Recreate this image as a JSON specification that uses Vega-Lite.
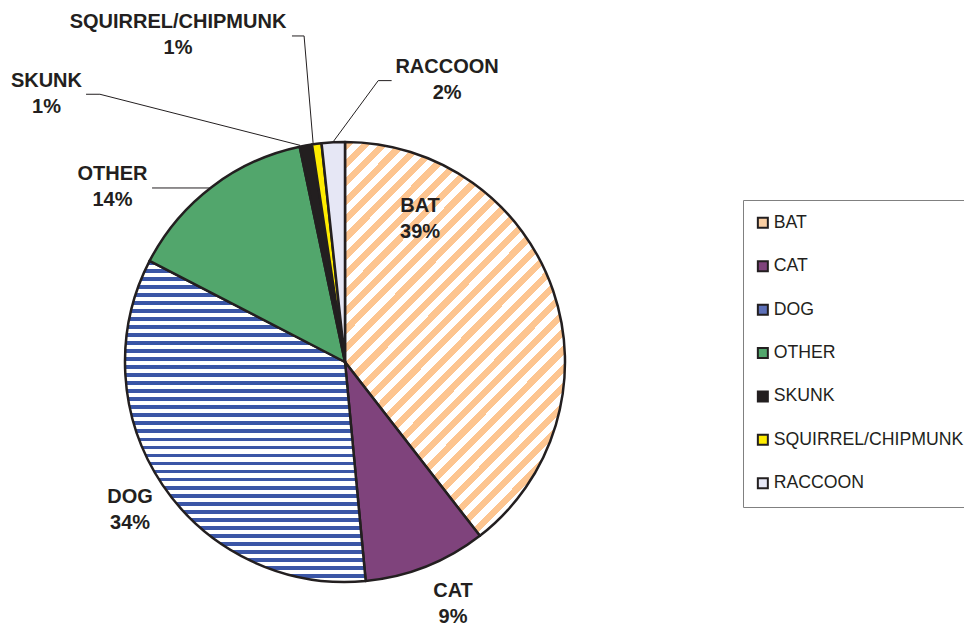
{
  "$schema": "https://vega.github.io/schema/vega-lite/v6.json",
  "width": 440,
  "height": 440,
  "autosize": {"type": "none"},
  "padding": {"left": 125, "top": 142, "right": 399, "bottom": 47},
  "background": "white",
  "config": {"view": {"stroke": null}, "font": "Liberation Sans"},
  "datasets": {
    "slices": [
      {"animal": "BAT", "idx": 1, "share": 39.5},
      {"animal": "CAT", "idx": 2, "share": 9.0},
      {"animal": "DOG", "idx": 3, "share": 34.1},
      {"animal": "OTHER", "idx": 4, "share": 14.1},
      {"animal": "SKUNK", "idx": 5, "share": 0.9},
      {"animal": "SQUIRREL/CHIPMUNK", "idx": 6, "share": 0.7},
      {"animal": "RACCOON", "idx": 7, "share": 1.7}
    ],
    "labels": [
      {"label": "BAT\n39%", "u": 0.341, "v": 0.709},
      {"label": "CAT\n9%", "u": 0.491, "v": -1.04},
      {"label": "DOG\n34%", "u": -0.977, "v": -0.612},
      {"label": "OTHER\n14%", "u": -1.057, "v": 0.856},
      {"label": "SKUNK\n1%", "u": -1.357, "v": 1.277},
      {"label": "SQUIRREL/CHIPMUNK\n1%", "u": -0.759, "v": 1.546},
      {"label": "RACCOON\n2%", "u": 0.464, "v": 1.339}
    ],
    "leaders": [
      {"u1": -0.241, "v1": 1.482, "u2": -0.186, "v2": 1.482},
      {"u1": -0.186, "v1": 1.482, "u2": -0.145, "v2": 0.995},
      {"u1": -1.177, "v1": 1.217, "u2": -1.114, "v2": 1.217},
      {"u1": -1.114, "v1": 1.217, "u2": -0.2045, "v2": 0.985},
      {"u1": 0.212, "v1": 1.279, "u2": 0.151, "v2": 1.279},
      {"u1": 0.151, "v1": 1.279, "u2": -0.053, "v2": 1.002},
      {"u1": -0.877, "v1": 0.791, "u2": -0.614, "v2": 0.791}
    ]
  },
  "layer": [
    {
      "data": {"name": "slices"},
      "mark": {"type": "arc", "stroke": "#231F20", "strokeWidth": 2.5, "strokeJoin": "round"},
      "encoding": {
        "theta": {"field": "share", "type": "quantitative", "stack": true},
        "order": {"field": "idx", "type": "quantitative"},
        "color": {
          "condition": [
            {"test": "datum.animal === 'BAT'", "value": {"gradient": "linear", "x1": 0, "y1": 0, "x2": 0.797, "y2": 1.42, "stops": [
                {"offset": 0, "color": "#FDC590"}, {"offset": 0.0125, "color": "#FDC590"}, {"offset": 0.0125, "color": "#fff"}, {"offset": 0.025, "color": "#fff"},
                {"offset": 0.025, "color": "#FDC590"}, {"offset": 0.0375, "color": "#FDC590"}, {"offset": 0.0375, "color": "#fff"}, {"offset": 0.05, "color": "#fff"},
                {"offset": 0.05, "color": "#FDC590"}, {"offset": 0.0625, "color": "#FDC590"}, {"offset": 0.0625, "color": "#fff"}, {"offset": 0.075, "color": "#fff"},
                {"offset": 0.075, "color": "#FDC590"}, {"offset": 0.0875, "color": "#FDC590"}, {"offset": 0.0875, "color": "#fff"}, {"offset": 0.1, "color": "#fff"},
                {"offset": 0.1, "color": "#FDC590"}, {"offset": 0.1125, "color": "#FDC590"}, {"offset": 0.1125, "color": "#fff"}, {"offset": 0.125, "color": "#fff"},
                {"offset": 0.125, "color": "#FDC590"}, {"offset": 0.1375, "color": "#FDC590"}, {"offset": 0.1375, "color": "#fff"}, {"offset": 0.15, "color": "#fff"},
                {"offset": 0.15, "color": "#FDC590"}, {"offset": 0.1625, "color": "#FDC590"}, {"offset": 0.1625, "color": "#fff"}, {"offset": 0.175, "color": "#fff"},
                {"offset": 0.175, "color": "#FDC590"}, {"offset": 0.1875, "color": "#FDC590"}, {"offset": 0.1875, "color": "#fff"}, {"offset": 0.2, "color": "#fff"},
                {"offset": 0.2, "color": "#FDC590"}, {"offset": 0.2125, "color": "#FDC590"}, {"offset": 0.2125, "color": "#fff"}, {"offset": 0.225, "color": "#fff"},
                {"offset": 0.225, "color": "#FDC590"}, {"offset": 0.2375, "color": "#FDC590"}, {"offset": 0.2375, "color": "#fff"}, {"offset": 0.25, "color": "#fff"},
                {"offset": 0.25, "color": "#FDC590"}, {"offset": 0.2625, "color": "#FDC590"}, {"offset": 0.2625, "color": "#fff"}, {"offset": 0.275, "color": "#fff"},
                {"offset": 0.275, "color": "#FDC590"}, {"offset": 0.2875, "color": "#FDC590"}, {"offset": 0.2875, "color": "#fff"}, {"offset": 0.3, "color": "#fff"},
                {"offset": 0.3, "color": "#FDC590"}, {"offset": 0.3125, "color": "#FDC590"}, {"offset": 0.3125, "color": "#fff"}, {"offset": 0.325, "color": "#fff"},
                {"offset": 0.325, "color": "#FDC590"}, {"offset": 0.3375, "color": "#FDC590"}, {"offset": 0.3375, "color": "#fff"}, {"offset": 0.35, "color": "#fff"},
                {"offset": 0.35, "color": "#FDC590"}, {"offset": 0.3625, "color": "#FDC590"}, {"offset": 0.3625, "color": "#fff"}, {"offset": 0.375, "color": "#fff"},
                {"offset": 0.375, "color": "#FDC590"}, {"offset": 0.3875, "color": "#FDC590"}, {"offset": 0.3875, "color": "#fff"}, {"offset": 0.4, "color": "#fff"},
                {"offset": 0.4, "color": "#FDC590"}, {"offset": 0.4125, "color": "#FDC590"}, {"offset": 0.4125, "color": "#fff"}, {"offset": 0.425, "color": "#fff"},
                {"offset": 0.425, "color": "#FDC590"}, {"offset": 0.4375, "color": "#FDC590"}, {"offset": 0.4375, "color": "#fff"}, {"offset": 0.45, "color": "#fff"},
                {"offset": 0.45, "color": "#FDC590"}, {"offset": 0.4625, "color": "#FDC590"}, {"offset": 0.4625, "color": "#fff"}, {"offset": 0.475, "color": "#fff"},
                {"offset": 0.475, "color": "#FDC590"}, {"offset": 0.4875, "color": "#FDC590"}, {"offset": 0.4875, "color": "#fff"}, {"offset": 0.5, "color": "#fff"},
                {"offset": 0.5, "color": "#FDC590"}, {"offset": 0.5125, "color": "#FDC590"}, {"offset": 0.5125, "color": "#fff"}, {"offset": 0.525, "color": "#fff"},
                {"offset": 0.525, "color": "#FDC590"}, {"offset": 0.5375, "color": "#FDC590"}, {"offset": 0.5375, "color": "#fff"}, {"offset": 0.55, "color": "#fff"},
                {"offset": 0.55, "color": "#FDC590"}, {"offset": 0.5625, "color": "#FDC590"}, {"offset": 0.5625, "color": "#fff"}, {"offset": 0.575, "color": "#fff"},
                {"offset": 0.575, "color": "#FDC590"}, {"offset": 0.5875, "color": "#FDC590"}, {"offset": 0.5875, "color": "#fff"}, {"offset": 0.6, "color": "#fff"},
                {"offset": 0.6, "color": "#FDC590"}, {"offset": 0.6125, "color": "#FDC590"}, {"offset": 0.6125, "color": "#fff"}, {"offset": 0.625, "color": "#fff"},
                {"offset": 0.625, "color": "#FDC590"}, {"offset": 0.6375, "color": "#FDC590"}, {"offset": 0.6375, "color": "#fff"}, {"offset": 0.65, "color": "#fff"},
                {"offset": 0.65, "color": "#FDC590"}, {"offset": 0.6625, "color": "#FDC590"}, {"offset": 0.6625, "color": "#fff"}, {"offset": 0.675, "color": "#fff"},
                {"offset": 0.675, "color": "#FDC590"}, {"offset": 0.6875, "color": "#FDC590"}, {"offset": 0.6875, "color": "#fff"}, {"offset": 0.7, "color": "#fff"},
                {"offset": 0.7, "color": "#FDC590"}, {"offset": 0.7125, "color": "#FDC590"}, {"offset": 0.7125, "color": "#fff"}, {"offset": 0.725, "color": "#fff"},
                {"offset": 0.725, "color": "#FDC590"}, {"offset": 0.7375, "color": "#FDC590"}, {"offset": 0.7375, "color": "#fff"}, {"offset": 0.75, "color": "#fff"},
                {"offset": 0.75, "color": "#FDC590"}, {"offset": 0.7625, "color": "#FDC590"}, {"offset": 0.7625, "color": "#fff"}, {"offset": 0.775, "color": "#fff"},
                {"offset": 0.775, "color": "#FDC590"}, {"offset": 0.7875, "color": "#FDC590"}, {"offset": 0.7875, "color": "#fff"}, {"offset": 0.8, "color": "#fff"},
                {"offset": 0.8, "color": "#FDC590"}, {"offset": 0.8125, "color": "#FDC590"}, {"offset": 0.8125, "color": "#fff"}, {"offset": 0.825, "color": "#fff"},
                {"offset": 0.825, "color": "#FDC590"}, {"offset": 0.8375, "color": "#FDC590"}, {"offset": 0.8375, "color": "#fff"}, {"offset": 0.85, "color": "#fff"},
                {"offset": 0.85, "color": "#FDC590"}, {"offset": 0.8625, "color": "#FDC590"}, {"offset": 0.8625, "color": "#fff"}, {"offset": 0.875, "color": "#fff"},
                {"offset": 0.875, "color": "#FDC590"}, {"offset": 0.8875, "color": "#FDC590"}, {"offset": 0.8875, "color": "#fff"}, {"offset": 1, "color": "#fff"}
              ]}},
            {"test": "datum.animal === 'DOG'", "value": {"gradient": "linear", "x1": 0, "y1": 0, "x2": 0, "y2": 1, "stops": [
                {"offset": 0, "color": "#3B56A6"}, {"offset": 0.012, "color": "#3B56A6"}, {"offset": 0.012, "color": "#fff"}, {"offset": 0.025, "color": "#fff"},
                {"offset": 0.025, "color": "#3B56A6"}, {"offset": 0.037, "color": "#3B56A6"}, {"offset": 0.037, "color": "#fff"}, {"offset": 0.05, "color": "#fff"},
                {"offset": 0.05, "color": "#3B56A6"}, {"offset": 0.062, "color": "#3B56A6"}, {"offset": 0.062, "color": "#fff"}, {"offset": 0.075, "color": "#fff"},
                {"offset": 0.075, "color": "#3B56A6"}, {"offset": 0.087, "color": "#3B56A6"}, {"offset": 0.087, "color": "#fff"}, {"offset": 0.1, "color": "#fff"},
                {"offset": 0.1, "color": "#3B56A6"}, {"offset": 0.112, "color": "#3B56A6"}, {"offset": 0.112, "color": "#fff"}, {"offset": 0.125, "color": "#fff"},
                {"offset": 0.125, "color": "#3B56A6"}, {"offset": 0.137, "color": "#3B56A6"}, {"offset": 0.137, "color": "#fff"}, {"offset": 0.15, "color": "#fff"},
                {"offset": 0.15, "color": "#3B56A6"}, {"offset": 0.162, "color": "#3B56A6"}, {"offset": 0.162, "color": "#fff"}, {"offset": 0.175, "color": "#fff"},
                {"offset": 0.175, "color": "#3B56A6"}, {"offset": 0.187, "color": "#3B56A6"}, {"offset": 0.187, "color": "#fff"}, {"offset": 0.2, "color": "#fff"},
                {"offset": 0.2, "color": "#3B56A6"}, {"offset": 0.212, "color": "#3B56A6"}, {"offset": 0.212, "color": "#fff"}, {"offset": 0.225, "color": "#fff"},
                {"offset": 0.225, "color": "#3B56A6"}, {"offset": 0.237, "color": "#3B56A6"}, {"offset": 0.237, "color": "#fff"}, {"offset": 0.25, "color": "#fff"},
                {"offset": 0.25, "color": "#3B56A6"}, {"offset": 0.262, "color": "#3B56A6"}, {"offset": 0.262, "color": "#fff"}, {"offset": 0.275, "color": "#fff"},
                {"offset": 0.275, "color": "#3B56A6"}, {"offset": 0.287, "color": "#3B56A6"}, {"offset": 0.287, "color": "#fff"}, {"offset": 0.3, "color": "#fff"},
                {"offset": 0.3, "color": "#3B56A6"}, {"offset": 0.312, "color": "#3B56A6"}, {"offset": 0.312, "color": "#fff"}, {"offset": 0.325, "color": "#fff"},
                {"offset": 0.325, "color": "#3B56A6"}, {"offset": 0.337, "color": "#3B56A6"}, {"offset": 0.337, "color": "#fff"}, {"offset": 0.35, "color": "#fff"},
                {"offset": 0.35, "color": "#3B56A6"}, {"offset": 0.362, "color": "#3B56A6"}, {"offset": 0.362, "color": "#fff"}, {"offset": 0.375, "color": "#fff"},
                {"offset": 0.375, "color": "#3B56A6"}, {"offset": 0.387, "color": "#3B56A6"}, {"offset": 0.387, "color": "#fff"}, {"offset": 0.4, "color": "#fff"},
                {"offset": 0.4, "color": "#3B56A6"}, {"offset": 0.412, "color": "#3B56A6"}, {"offset": 0.412, "color": "#fff"}, {"offset": 0.425, "color": "#fff"},
                {"offset": 0.425, "color": "#3B56A6"}, {"offset": 0.437, "color": "#3B56A6"}, {"offset": 0.437, "color": "#fff"}, {"offset": 0.45, "color": "#fff"},
                {"offset": 0.45, "color": "#3B56A6"}, {"offset": 0.462, "color": "#3B56A6"}, {"offset": 0.462, "color": "#fff"}, {"offset": 0.475, "color": "#fff"},
                {"offset": 0.475, "color": "#3B56A6"}, {"offset": 0.487, "color": "#3B56A6"}, {"offset": 0.487, "color": "#fff"}, {"offset": 0.5, "color": "#fff"},
                {"offset": 0.5, "color": "#3B56A6"}, {"offset": 0.512, "color": "#3B56A6"}, {"offset": 0.512, "color": "#fff"}, {"offset": 0.525, "color": "#fff"},
                {"offset": 0.525, "color": "#3B56A6"}, {"offset": 0.537, "color": "#3B56A6"}, {"offset": 0.537, "color": "#fff"}, {"offset": 0.55, "color": "#fff"},
                {"offset": 0.55, "color": "#3B56A6"}, {"offset": 0.562, "color": "#3B56A6"}, {"offset": 0.562, "color": "#fff"}, {"offset": 0.575, "color": "#fff"},
                {"offset": 0.575, "color": "#3B56A6"}, {"offset": 0.587, "color": "#3B56A6"}, {"offset": 0.587, "color": "#fff"}, {"offset": 0.6, "color": "#fff"},
                {"offset": 0.6, "color": "#3B56A6"}, {"offset": 0.612, "color": "#3B56A6"}, {"offset": 0.612, "color": "#fff"}, {"offset": 0.625, "color": "#fff"},
                {"offset": 0.625, "color": "#3B56A6"}, {"offset": 0.637, "color": "#3B56A6"}, {"offset": 0.637, "color": "#fff"}, {"offset": 0.65, "color": "#fff"},
                {"offset": 0.65, "color": "#3B56A6"}, {"offset": 0.662, "color": "#3B56A6"}, {"offset": 0.662, "color": "#fff"}, {"offset": 0.675, "color": "#fff"},
                {"offset": 0.675, "color": "#3B56A6"}, {"offset": 0.687, "color": "#3B56A6"}, {"offset": 0.687, "color": "#fff"}, {"offset": 0.7, "color": "#fff"},
                {"offset": 0.7, "color": "#3B56A6"}, {"offset": 0.712, "color": "#3B56A6"}, {"offset": 0.712, "color": "#fff"}, {"offset": 0.725, "color": "#fff"},
                {"offset": 0.725, "color": "#3B56A6"}, {"offset": 0.737, "color": "#3B56A6"}, {"offset": 0.737, "color": "#fff"}, {"offset": 0.75, "color": "#fff"},
                {"offset": 0.75, "color": "#3B56A6"}, {"offset": 0.762, "color": "#3B56A6"}, {"offset": 0.762, "color": "#fff"}, {"offset": 0.775, "color": "#fff"},
                {"offset": 0.775, "color": "#3B56A6"}, {"offset": 0.787, "color": "#3B56A6"}, {"offset": 0.787, "color": "#fff"}, {"offset": 0.8, "color": "#fff"},
                {"offset": 0.8, "color": "#3B56A6"}, {"offset": 0.812, "color": "#3B56A6"}, {"offset": 0.812, "color": "#fff"}, {"offset": 0.825, "color": "#fff"},
                {"offset": 0.825, "color": "#3B56A6"}, {"offset": 0.837, "color": "#3B56A6"}, {"offset": 0.837, "color": "#fff"}, {"offset": 0.85, "color": "#fff"},
                {"offset": 0.85, "color": "#3B56A6"}, {"offset": 0.862, "color": "#3B56A6"}, {"offset": 0.862, "color": "#fff"}, {"offset": 0.875, "color": "#fff"},
                {"offset": 0.875, "color": "#3B56A6"}, {"offset": 0.887, "color": "#3B56A6"}, {"offset": 0.887, "color": "#fff"}, {"offset": 0.9, "color": "#fff"},
                {"offset": 0.9, "color": "#3B56A6"}, {"offset": 0.912, "color": "#3B56A6"}, {"offset": 0.912, "color": "#fff"}, {"offset": 0.925, "color": "#fff"},
                {"offset": 0.925, "color": "#3B56A6"}, {"offset": 0.937, "color": "#3B56A6"}, {"offset": 0.937, "color": "#fff"}, {"offset": 0.95, "color": "#fff"},
                {"offset": 0.95, "color": "#3B56A6"}, {"offset": 0.962, "color": "#3B56A6"}, {"offset": 0.962, "color": "#fff"}, {"offset": 0.975, "color": "#fff"},
                {"offset": 0.975, "color": "#3B56A6"}, {"offset": 0.987, "color": "#3B56A6"}, {"offset": 0.987, "color": "#fff"}, {"offset": 1, "color": "#fff"}
              ]}}
          ],
          "field": "animal",
          "type": "nominal",
          "scale": {
            "domain": ["BAT", "CAT", "DOG", "OTHER", "SKUNK", "SQUIRREL/CHIPMUNK", "RACCOON"],
            "range": ["#FBCFA3", "#7F437C", "#5D70B8", "#52A66C", "#231F20", "#FFEC00", "#E6E7F5"]
          },
          "legend": {
            "title": null,
            "orient": "none",
            "legendX": 618,
            "legendY": 58,
            "padding": 14,
            "strokeColor": "#808080",
            "symbolType": "square",
            "symbolSize": 100,
            "symbolStrokeColor": "#231F20",
            "symbolStrokeWidth": 2,
            "symbolOpacity": 1,
            "symbolOffset": -3,
            "labelFont": "Liberation Sans",
            "labelFontSize": 17.7,
            "labelColor": "#231F20",
            "labelOffset": 2,
            "rowPadding": 24.4,
            "labelLimit": 300
          }
        }
      }
    },
    {
      "data": {"name": "leaders"},
      "mark": {"type": "rule", "color": "#231F20", "strokeWidth": 1},
      "encoding": {
        "x": {"field": "u1", "type": "quantitative", "scale": {"domain": [-1, 1], "nice": false, "zero": false}, "axis": null},
        "y": {"field": "v1", "type": "quantitative", "scale": {"domain": [-1, 1], "nice": false, "zero": false}, "axis": null},
        "x2": {"field": "u2"},
        "y2": {"field": "v2"}
      }
    },
    {
      "data": {"name": "labels"},
      "mark": {"type": "text", "font": "Liberation Sans", "fontWeight": "bold", "fontSize": 20, "lineBreak": "\n", "lineHeight": 26, "align": "center", "baseline": "middle", "color": "#231F20"},
      "encoding": {
        "x": {"field": "u", "type": "quantitative", "scale": {"domain": [-1, 1], "nice": false, "zero": false}, "axis": null},
        "y": {"field": "v", "type": "quantitative", "scale": {"domain": [-1, 1], "nice": false, "zero": false}, "axis": null},
        "text": {"field": "label"}
      }
    }
  ]
}
